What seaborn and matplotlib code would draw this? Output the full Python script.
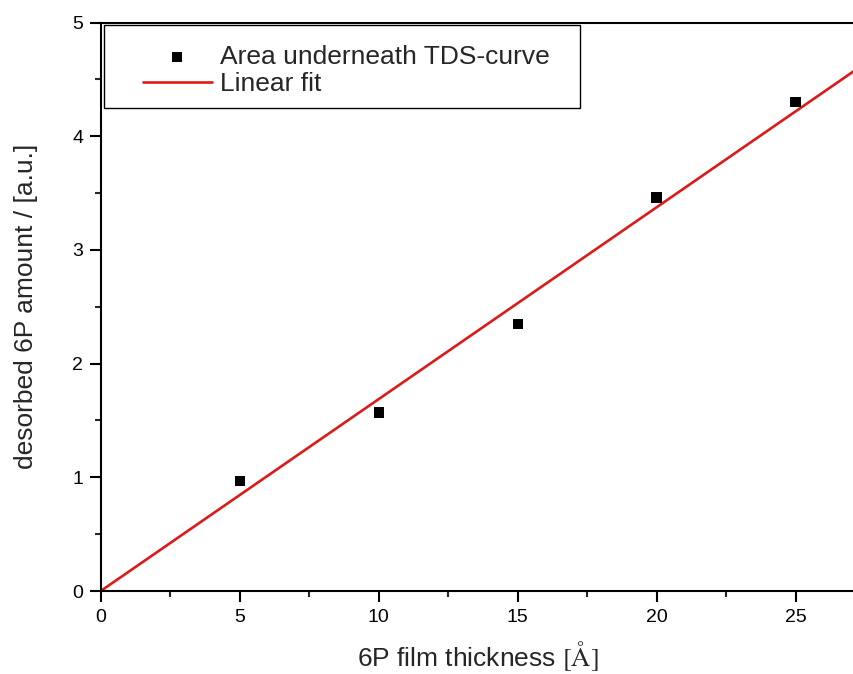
import matplotlib
matplotlib.use('Agg')
import matplotlib.pyplot as plt
import seaborn as sns
from matplotlib.path import Path
from matplotlib.ticker import MultipleLocator

# ---- data ----
thickness = [5, 10, 15, 20, 25]
amount = [0.97, 1.57, 2.35, 3.46, 4.30]
fit_x = [0, 27.2]
fit_y = [0, 4.59]
x_ticks = [0, 5, 10, 15, 20, 25]
y_ticks = [0, 1, 2, 3, 4, 5]
label_points = 'Area underneath TDS-curve'
label_fit = 'Linear fit'
xlabel = r'6P film thickness $[\mathrm{\AA}]$'
ylabel = 'desorbed 6P amount / [a.u.]'

sns.set_style('ticks')
plt.rcParams['font.family'] = ['Liberation Sans', 'DejaVu Sans']
plt.rcParams['mathtext.fontset'] = 'stix'
plt.rcParams['xtick.labelsize'] = 14
plt.rcParams['ytick.labelsize'] = 14

W, H = 854, 674
fig = plt.figure(figsize=(W / 100, H / 100), dpi=100)
x0, x1 = 100.7, 854.0
ytop, ybot = 22.5, 591.0
ax = fig.add_axes([x0 / W, (H - ybot) / H, (x1 - x0) / W, (ybot - ytop) / H])

red = '#dd1a1a'
sns.lineplot(x=fit_x, y=fit_y, color=red, linewidth=1.9, label=label_fit, ax=ax, zorder=2)
sns.scatterplot(x=thickness, y=amount, marker='s', s=55, color='black', edgecolor='none',
                label=label_points, ax=ax, zorder=3)

ax.set_xlim(0, 27.1)
ax.set_ylim(0, 5)
ax.set_xticks(x_ticks)
ax.set_yticks(y_ticks)
ax.xaxis.set_minor_locator(MultipleLocator(2.5))
ax.yaxis.set_minor_locator(MultipleLocator(0.5))

for s in ['left', 'bottom', 'top']:
    ax.spines[s].set_linewidth(1.5)
    ax.spines[s].set_color('black')
ax.spines['right'].set_visible(False)

ax.tick_params(which='major', direction='out', length=7.7, width=1.5, labelsize=14,
               pad=5, colors='black', top=False, right=False)
ax.tick_params(which='minor', direction='out', length=4, width=1.5, top=False, right=False)

ax.set_xlabel(xlabel, fontsize=19)
ax.set_ylabel(ylabel, fontsize=19)
ax.xaxis.set_label_coords(0.5, (ybot - 666) / (ybot - ytop))
ax.xaxis.label.set_va('baseline')
ax.yaxis.set_label_coords(-0.083, 0.5)

fs_px = 19 * 100 / 72.0
handles, labels = ax.get_legend_handles_labels()
order = [labels.index(label_points), labels.index(label_fit)]
bp = 0.45
leg = ax.legend([handles[i] for i in order], [labels[i] for i in order],
                loc='upper left',
                bbox_to_anchor=((142.7 - bp * fs_px - x0) / (x1 - x0), (ybot - 33) / (ybot - ytop)),
                borderaxespad=0, fontsize=19, frameon=True, fancybox=False,
                handlelength=2.62, handletextpad=0.3, borderpad=bp, labelspacing=0.12)
frame = leg.get_frame()
frame.set_edgecolor('black')
frame.set_linewidth(1.0)
frame.set_facecolor('white')
frame.set_alpha(1)


def wide_box(x, y, width, height, mutation_size):
    xa = x - 1.0 * mutation_size
    xb = x + width + 0.7 * mutation_size
    ya = y
    yb = y + height + 0.3 * mutation_size
    return Path([(xa, ya), (xb, ya), (xb, yb), (xa, yb), (xa, ya)],
                [Path.MOVETO, Path.LINETO, Path.LINETO, Path.LINETO, Path.CLOSEPOLY])


frame.set_boxstyle(wide_box)

fig.savefig('out.png', dpi=100)
